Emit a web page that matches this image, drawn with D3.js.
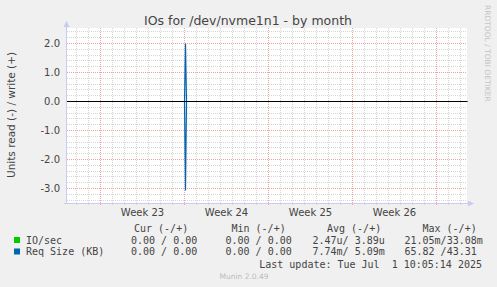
<!DOCTYPE html>
<html><head><meta charset="utf-8">
<script src="https://cdn.jsdelivr.net/npm/d3@7"></script>
<style>
html,body{margin:0;padding:0;background:#f0f0f0;}
svg{display:block;}
text{font-family:"DejaVu Sans",sans-serif;fill:#444;}
.mono{font-family:"DejaVu Sans Mono",monospace;font-size:10px;}
</style></head>
<body>
<svg id="c" width="497" height="287"></svg>
<script>
// ---- data ----
const title = "IOs for /dev/nvme1n1 - by month";
const yLabel = "Units read (-) / write (+)";
const yTicks = [2.0, 1.0, 0.0, -1.0, -2.0, -3.0];
const weekLabels = ["Week 23", "Week 24", "Week 25", "Week 26"];
const weekStarts = ["2025-06-01T00:00", "2025-06-08T00:00", "2025-06-15T00:00", "2025-06-22T00:00"];
const rangeStart = "2025-05-29T06:00";
const rangeEnd = "2025-07-01T14:00";
const sampleTimes = ["2025-05-29T06:00", "2025-06-08T00:00", "2025-06-08T02:00", "2025-06-08T04:00", "2025-07-01T14:00"];
const ioWrite = [0, 0, 0, 0, 0];
const ioRead = [0, 0, 0, 0, 0];
const reqWrite = [0, 0, 2.0, 0, 0];
const reqRead = [0, 0, 3.07, 0, 0];
const seriesNames = ["IO/sec", "Req Size (KB)"];
const seriesColors = ["#00cc00", "#0066b3"];
const legendHeaders = ["Cur (-/+)", "Min (-/+)", "Avg (-/+)", "Max (-/+)"];
const legendRows = [
  ["0.00 / 0.00", "0.00 / 0.00", "2.47u/ 3.89u", "21.05m/33.08m"],
  ["0.00 / 0.00", "0.00 / 0.00", "7.74m/ 5.09m", "65.82 /43.31"]
];
const lastUpdate = "Last update: Tue Jul  1 10:05:14 2025";
const footer = "Munin 2.0.49";
const sideText = "RRDTOOL / TOBI OETIKER";

// ---- drawing ----
const svg = d3.select("#c");
const parse = d3.timeParse("%Y-%m-%dT%H:%M");
const x = d3.scaleTime().domain([parse(rangeStart), parse(rangeEnd)]).range([67.5, 467.5]);
const y = d3.scaleLinear().domain([-3.5, 2.5]).range([203, 29]);

// plot area
svg.append("rect").attr("x", 67).attr("y", 28).attr("width", 400).attr("height", 175).attr("fill", "#fff");

const g = svg.append("g");
// minor horizontal grid (every 0.2)
const minorY = d3.range(-17, 13).map(i => i / 5).filter(v => Math.abs(v - Math.round(v)) > 1e-6);
g.selectAll(".hmin").data(minorY).join("line")
  .attr("x1", 67).attr("x2", 467)
  .attr("y1", d => Math.round(y(d) - 0.5) + 0.5).attr("y2", d => Math.round(y(d) - 0.5) + 0.5)
  .attr("stroke", "#d6d6d6").attr("stroke-dasharray", "1,1");
// minor vertical grid (daily)
const days = d3.timeDay.range(d3.timeDay.ceil(x.domain()[0]), x.domain()[1]);
g.selectAll(".vmin").data(days).join("line")
  .attr("x1", d => Math.round(x(d) - 0.5) + 0.5).attr("x2", d => Math.round(x(d) - 0.5) + 0.5)
  .attr("y1", 28).attr("y2", 205)
  .attr("stroke", "#d6d6d6").attr("stroke-dasharray", "1,1");
// major horizontal
g.selectAll(".hmaj").data(d3.range(-3, 3)).join("line")
  .attr("x1", 67).attr("x2", 467)
  .attr("y1", d => y(d)).attr("y2", d => y(d))
  .attr("stroke", "#f3a0a0").attr("stroke-dasharray", "1,1");
// major vertical (weeks)
const weeks = d3.timeSunday.range(d3.timeSunday.ceil(x.domain()[0]), x.domain()[1]);
g.selectAll(".vmaj").data(weeks).join("line")
  .attr("x1", d => Math.round(x(d) - 0.5) + 0.5).attr("x2", d => Math.round(x(d) - 0.5) + 0.5)
  .attr("y1", 28).attr("y2", 206)
  .attr("stroke", "#f3a0a0").attr("stroke-dasharray", "1,1");

// series
const times = sampleTimes.map(parse);
const line = d3.line().x(d => x(d[0])).y(d => y(d[1]));
function draw(vals, sign, color) {
  svg.append("path").datum(times.map((t, i) => [t, sign * vals[i]]))
    .attr("d", line).attr("fill", "none").attr("stroke", color).attr("stroke-width", 1.2);
}
draw(ioWrite, 1, seriesColors[0]);
draw(ioRead, -1, seriesColors[0]);
draw(reqWrite, 1, seriesColors[1]);
draw(reqRead, -1, seriesColors[1]);

// zero line
svg.append("line").attr("x1", 67).attr("x2", 467).attr("y1", y(0)).attr("y2", y(0))
  .attr("stroke", "#000").attr("stroke-width", 1);

// axes
svg.append("line").attr("x1", 66.5).attr("x2", 66.5).attr("y1", 26).attr("y2", 204).attr("stroke", "#c8ccf0");
svg.append("line").attr("x1", 64).attr("x2", 469).attr("y1", 203.5).attr("y2", 203.5).attr("stroke", "#c8ccf0");
svg.append("path").attr("d", "M63.5,27 L66.5,21 L69.5,27 Z").attr("fill", "#c8ccf0");
svg.append("path").attr("d", "M468,200.5 L474,203.5 L468,206.5 Z").attr("fill", "#c8ccf0");

// y tick labels
svg.selectAll(".yt").data(yTicks).join("text")
  .attr("x", 60).attr("y", d => y(d) + 3.5).attr("text-anchor", "end")
  .style("font-size", "10px").text(d => d.toFixed(1));

// x labels
svg.selectAll(".xt").data(weekLabels).join("text")
  .attr("x", (d, i) => x(d3.timeHour.offset(parse(weekStarts[i]), 84)))
  .attr("y", 216).attr("text-anchor", "middle")
  .style("font-size", "10px").text(d => d);

// title
svg.append("text").attr("x", 248).attr("y", 25).attr("text-anchor", "middle")
  .style("font-size", "12.5px").text(title);
// y label
svg.append("text").attr("transform", "translate(15,115) rotate(-90)").attr("text-anchor", "middle")
  .style("font-size", "10.5px").text(yLabel);
// side text
svg.append("text").attr("transform", "translate(485,5) rotate(90)").attr("text-anchor", "start")
  .style("font-size", "7.5px").style("fill", "#c4c4c4").text(sideText);

// legend
const colX = [134, 231.5, 327, 422.5];
svg.selectAll(".lh").data(legendHeaders).join("text").attr("class", "mono")
  .attr("x", (d, i) => colX[i]).attr("y", 231.5).attr("xml:space", "preserve").text(d => d);
const valX = [131, 225.5, 312.5, 404.5];
legendRows.forEach((row, r) => {
  const yy = 243.5 + r * 11.5;
  svg.append("rect").attr("x", 14).attr("y", yy - 6.5).attr("width", 6).attr("height", 6).attr("fill", seriesColors[r]);
  svg.append("text").attr("class", "mono").attr("x", 26).attr("y", yy).attr("xml:space", "preserve").text(seriesNames[r]);
  row.forEach((v, i) => {
    svg.append("text").attr("class", "mono").attr("x", valX[i]).attr("y", yy).attr("xml:space", "preserve").text(v);
  });
});
svg.append("text").attr("class", "mono").attr("x", 482).attr("y", 267.5).attr("text-anchor", "end")
  .attr("xml:space", "preserve").text(lastUpdate);
svg.append("text").attr("x", 244).attr("y", 279).attr("text-anchor", "middle")
  .style("font-size", "7.5px").style("fill", "#bbb").text(footer);
</script>
</body></html>
